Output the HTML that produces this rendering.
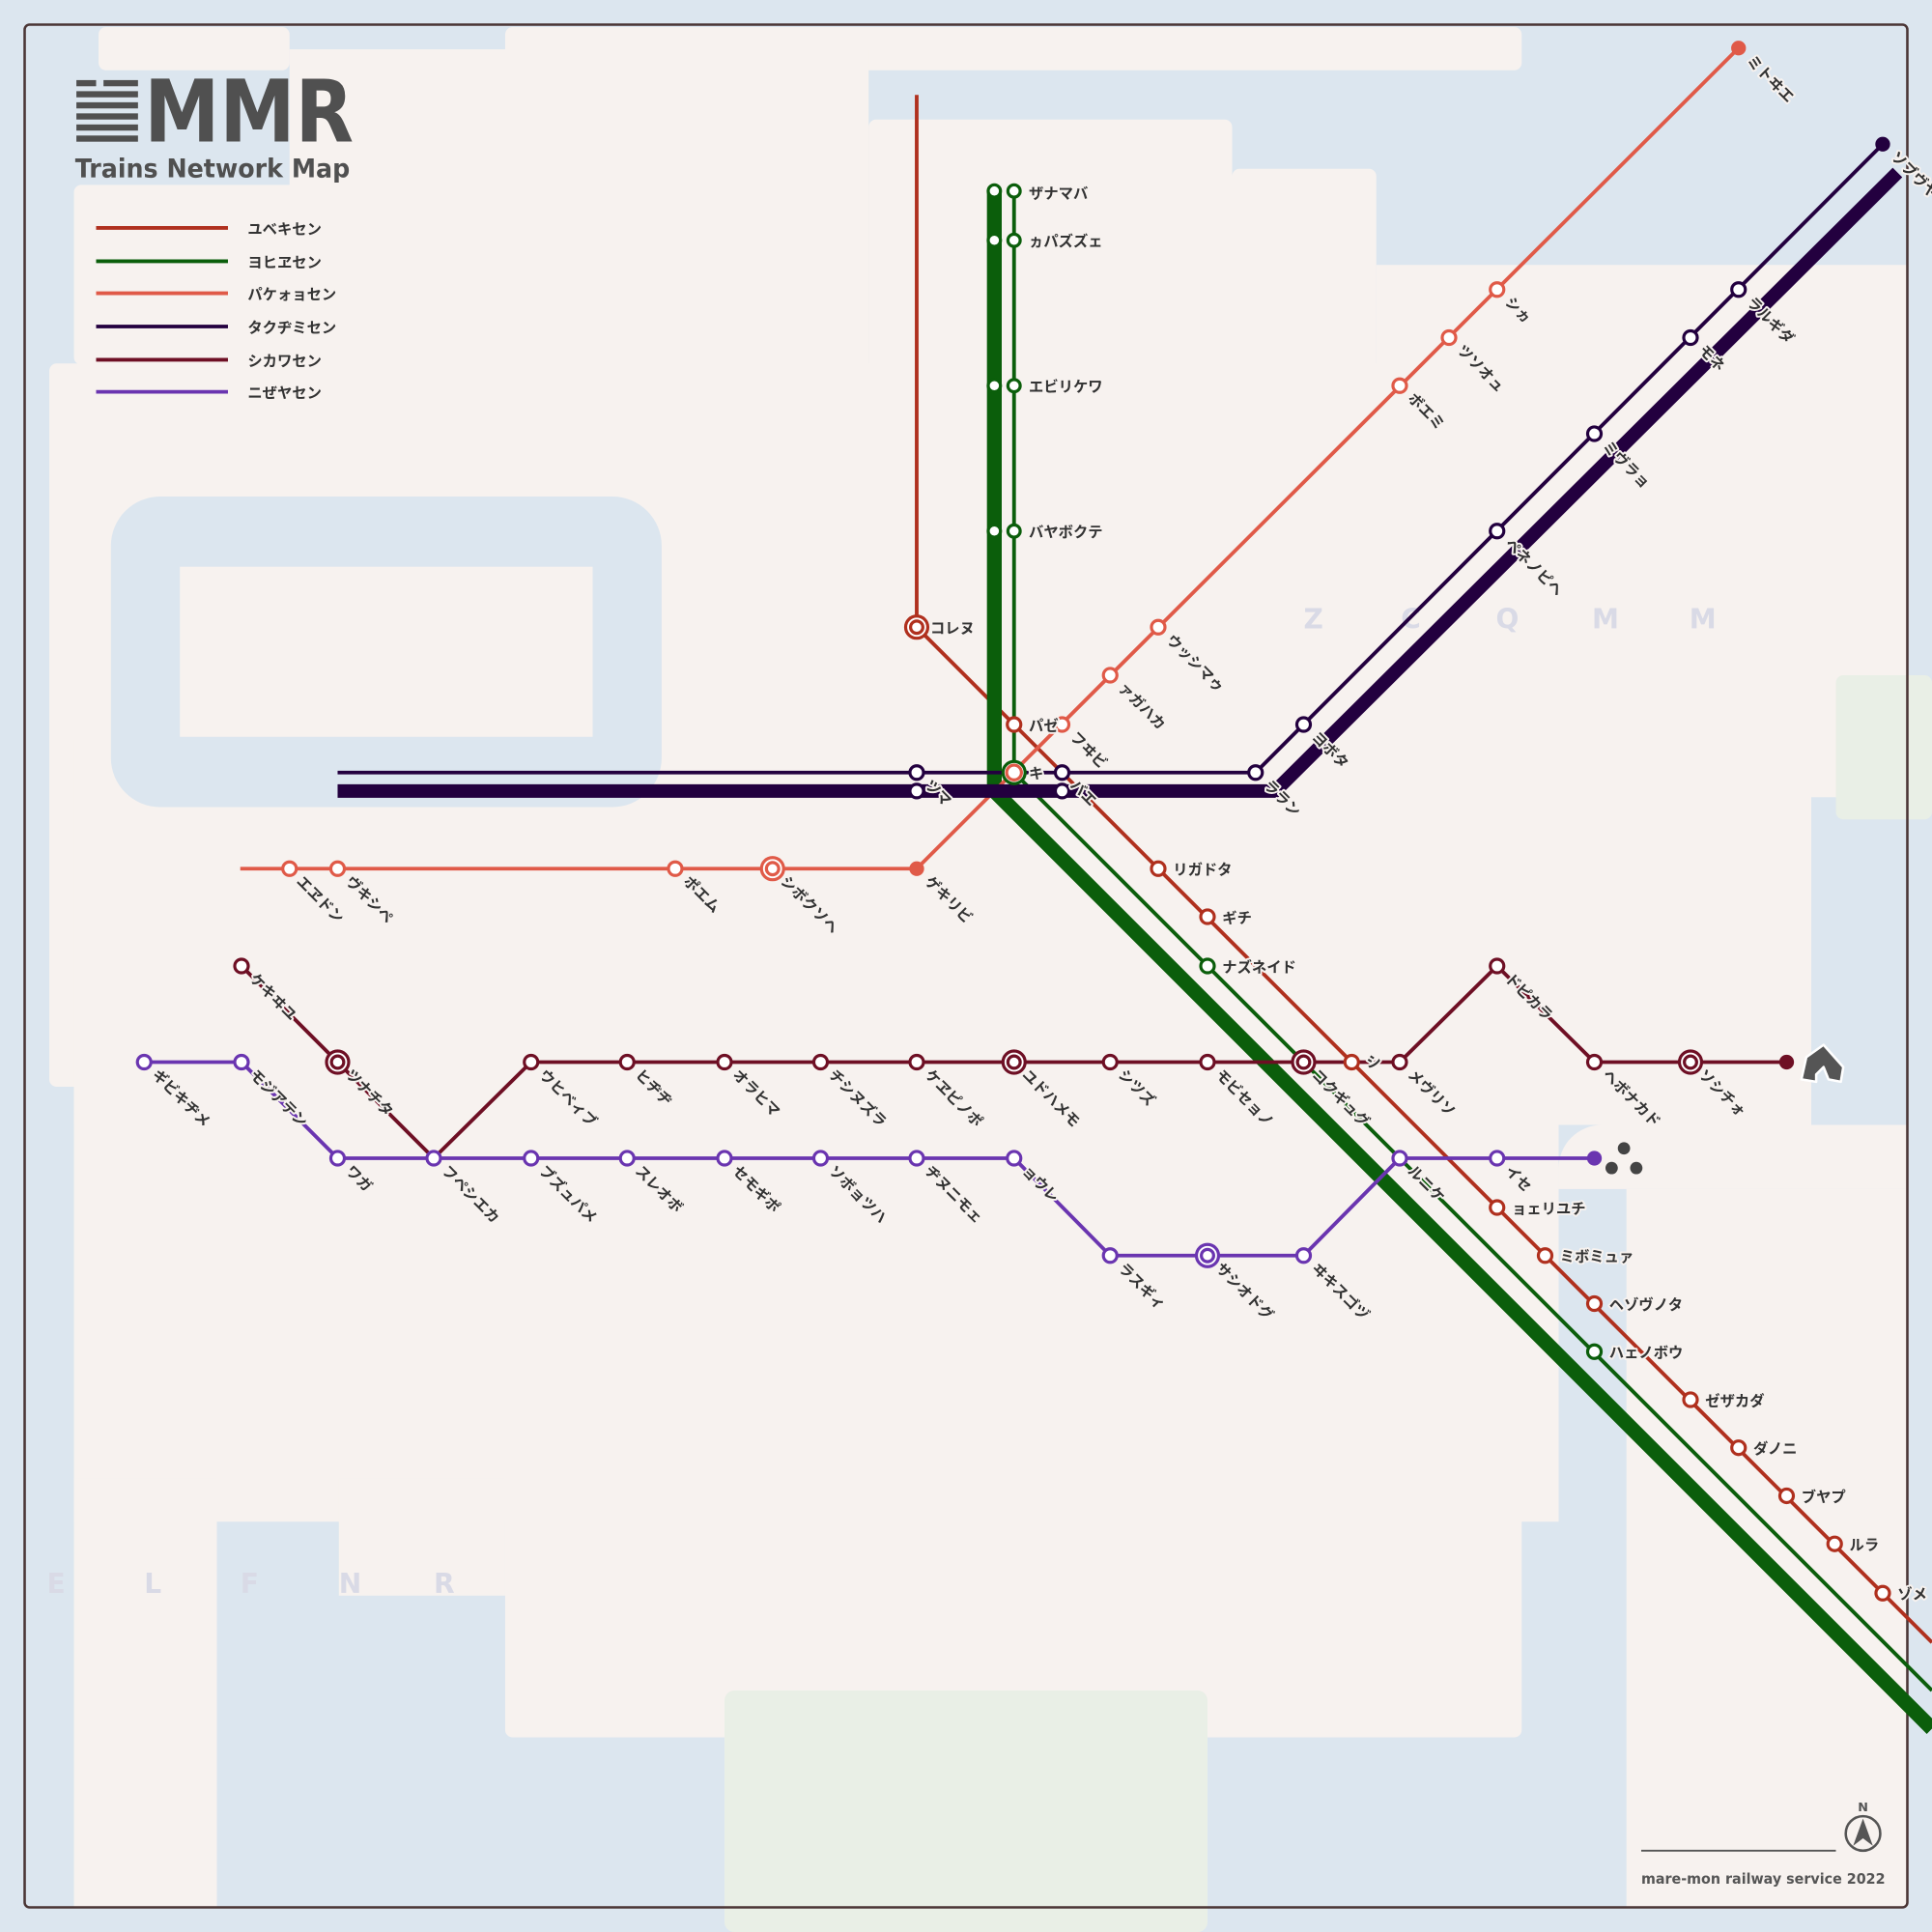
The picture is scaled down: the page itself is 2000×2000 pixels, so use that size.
<!DOCTYPE html>
<html><head><meta charset="utf-8"><style>
html,body{margin:0;padding:0;background:#dce6ef}
svg{display:block}
.t{font-family:"Liberation Sans","Noto Sans CJK JP",sans-serif;font-size:12px;font-weight:bold;fill:#333;stroke:#f7f2ef;stroke-width:3px;paint-order:stroke;stroke-linejoin:round}
.f{font-family:"DejaVu Sans","Liberation Sans",sans-serif;font-size:22px;font-weight:bold;fill:#d9dae6}
</style></head><body>
<svg width="2000" height="2000" viewBox="0 0 1568 1568" xmlns="http://www.w3.org/2000/svg">
<rect width="1568" height="1568" fill="#dce6ef"/>
<g fill="#f7f2ef">
<rect x="80" y="22" width="155" height="35" rx="6"/>
<rect x="410" y="22" width="825" height="35" rx="6"/>
<rect x="235" y="40" width="470" height="262"/>
<rect x="705" y="97" width="295" height="205" rx="6"/>
<rect x="1000" y="137" width="117" height="165" rx="6"/>
<rect x="1117" y="215" width="431" height="432"/>
<rect x="60" y="150" width="230" height="146" rx="6"/>
<rect x="40" y="295" width="1430" height="587" rx="6"/>
<rect x="60" y="600" width="1410" height="312"/>
<rect x="60" y="880" width="1205" height="355"/>
<rect x="1265" y="880" width="205" height="33"/>
<rect x="60" y="1200" width="116" height="348"/>
<rect x="275" y="1200" width="135" height="95"/>
<rect x="410" y="1200" width="825" height="210" rx="6"/>
<rect x="1320" y="965" width="228" height="583"/>
<path d="M1265 965 H1548 V913 H1300 A35 35 0 0 0 1265 948Z"/>
</g>
<rect x="1490" y="548" width="78" height="117" rx="6" fill="#e9efe6"/>
<rect x="588" y="1372" width="392" height="196" rx="8" fill="#e9efe6"/>
<rect x="90" y="403" width="447" height="252" rx="40" fill="#dce6ef"/>
<rect x="146" y="460" width="335" height="138" fill="#f7f2ef"/>
<rect x="20" y="20" width="1528" height="1528" rx="4" fill="none" stroke="#4a3535" stroke-width="2"/>

<g class="f"><text x="1058" y="510">Z</text><text x="1137" y="510">C</text><text x="1214" y="510">Q</text><text x="1292" y="510">M</text><text x="1371" y="510">M</text>
<text x="38" y="1293">E</text><text x="117" y="1293">L</text><text x="195" y="1293">F</text><text x="275" y="1293">N</text><text x="352" y="1293">R</text></g>

<!-- title -->
<g fill="#505050"><rect x="62" y="65" width="16" height="5"/><rect x="84" y="65" width="28" height="5"/><rect x="62" y="74" width="50" height="5"/><rect x="62" y="83" width="50" height="5"/><rect x="62" y="92" width="50" height="5"/><rect x="62" y="101" width="50" height="5"/><rect x="62" y="110" width="50" height="5"/></g>
<text x="117" y="115" font-family="DejaVu Sans,Liberation Sans,sans-serif" font-size="70" font-weight="bold" fill="#505050" textLength="170" lengthAdjust="spacingAndGlyphs">MMR</text>
<text x="61" y="144" font-family="DejaVu Sans,Liberation Sans,sans-serif" font-size="21" font-weight="bold" fill="#505050" textLength="223" lengthAdjust="spacingAndGlyphs">Trains Network Map</text>
<g stroke-width="3">
<line x1="78" y1="185" x2="185" y2="185" stroke="#b0301e"/><line x1="78" y1="212" x2="185" y2="212" stroke="#0b5e0b"/><line x1="78" y1="238" x2="185" y2="238" stroke="#e05a48"/><line x1="78" y1="265" x2="185" y2="265" stroke="#23003f"/><line x1="78" y1="292" x2="185" y2="292" stroke="#6e0f24"/><line x1="78" y1="318" x2="185" y2="318" stroke="#6a35b0"/></g>
<g class="t" fill="#444"><text x="201" y="190">ユベキセン</text><text x="201" y="217">ヨヒヱセン</text><text x="201" y="243">パケォョセン</text><text x="201" y="270">タクヂミセン</text><text x="201" y="297">シカワセン</text><text x="201" y="323">ニぜヤセン</text></g>

<!-- lines -->
<g fill="none" stroke-linejoin="round">
<polyline points="744,77 744,509 1568,1333" stroke="#b0301e" stroke-width="3"/>
<polyline points="807,155 807,642 1568,1403" stroke="#0b5e0b" stroke-width="12"/>
<polyline points="823,155 823,627 1568,1372" stroke="#0b5e0b" stroke-width="3"/>
<polyline points="195,705 744,705 1411,39" stroke="#e05a48" stroke-width="3"/>
<polyline points="274,627 1019,627 1528,117" stroke="#23003f" stroke-width="3"/>
<polyline points="274,642 1035,642 1540,140" stroke="#23003f" stroke-width="11"/>
<polyline points="196,784 274,862 352,940 431,862 1136,862 1215,784 1294,862 1450,862" stroke="#6e0f24" stroke-width="3"/>
<polyline points="117,862 196,862 274,940 823,940 901,1019 1058,1019 1136,940 1294,940" stroke="#6a35b0" stroke-width="3"/>
</g>

<!-- stations -->
<g fill="#fff" stroke-width="2.5">
<g stroke="#0b5e0b">
<circle cx="807" cy="155" r="5"/><circle cx="823" cy="155" r="5"/><circle cx="807" cy="195" r="5"/><circle cx="823" cy="195" r="5"/>
<circle cx="807" cy="313" r="5"/><circle cx="823" cy="313" r="5"/><circle cx="807" cy="431" r="5"/><circle cx="823" cy="431" r="5"/>
<circle cx="980" cy="784" r="5.5"/><circle cx="1294" cy="1097" r="5.5"/><circle cx="823" cy="627" r="9"/></g>
<g stroke="#b0301e">
<circle cx="744" cy="509" r="9"/><circle cx="744" cy="509" r="5"/>
<circle cx="823" cy="588" r="5.5"/><circle cx="940" cy="705" r="5.5"/><circle cx="980" cy="744" r="5.5"/><circle cx="1097" cy="862" r="5.5"/>
<circle cx="1215" cy="980" r="5.5"/><circle cx="1254" cy="1019" r="5.5"/><circle cx="1294" cy="1058" r="5.5"/><circle cx="1372" cy="1136" r="5.5"/>
<circle cx="1411" cy="1175" r="5.5"/><circle cx="1450" cy="1214" r="5.5"/><circle cx="1489" cy="1253" r="5.5"/><circle cx="1528" cy="1293" r="5.5"/></g>
<g stroke="#e05a48">
<circle cx="235" cy="705" r="5.5"/><circle cx="274" cy="705" r="5.5"/><circle cx="548" cy="705" r="5.5"/>
<circle cx="627" cy="705" r="9"/><circle cx="627" cy="705" r="5"/><circle cx="823" cy="627" r="6"/>
<circle cx="862" cy="588" r="5.5"/><circle cx="901" cy="548" r="5.5"/><circle cx="940" cy="509" r="5.5"/><circle cx="1136" cy="313" r="5.5"/><circle cx="1176" cy="274" r="5.5"/><circle cx="1215" cy="235" r="5.5"/></g>
<g stroke="#23003f">
<circle cx="744" cy="627" r="5.5"/><circle cx="744" cy="642" r="5.5"/><circle cx="862" cy="627" r="5.5"/><circle cx="862" cy="642" r="5.5"/>
<circle cx="1019" cy="627" r="5.5"/><circle cx="1058" cy="588" r="5.5"/><circle cx="1215" cy="431" r="5.5"/><circle cx="1294" cy="352" r="5.5"/><circle cx="1372" cy="274" r="5.5"/><circle cx="1411" cy="235" r="5.5"/></g>
<g stroke="#6e0f24">
<circle cx="196" cy="784" r="5.5"/><circle cx="274" cy="862" r="9"/><circle cx="274" cy="862" r="5"/><circle cx="431" cy="862" r="5.5"/><circle cx="509" cy="862" r="5.5"/><circle cx="588" cy="862" r="5.5"/><circle cx="666" cy="862" r="5.5"/><circle cx="744" cy="862" r="5.5"/>
<circle cx="823" cy="862" r="9"/><circle cx="823" cy="862" r="5"/><circle cx="901" cy="862" r="5.5"/><circle cx="980" cy="862" r="5.5"/><circle cx="1058" cy="862" r="9"/><circle cx="1058" cy="862" r="5"/>
<circle cx="1136" cy="862" r="5.5"/><circle cx="1215" cy="784" r="5.5"/><circle cx="1294" cy="862" r="5.5"/><circle cx="1372" cy="862" r="9"/><circle cx="1372" cy="862" r="5"/></g>
<g stroke="#6a35b0">
<circle cx="117" cy="862" r="5.5"/><circle cx="196" cy="862" r="5.5"/><circle cx="274" cy="940" r="5.5"/><circle cx="352" cy="940" r="5.5"/><circle cx="431" cy="940" r="5.5"/><circle cx="509" cy="940" r="5.5"/><circle cx="588" cy="940" r="5.5"/><circle cx="666" cy="940" r="5.5"/><circle cx="744" cy="940" r="5.5"/><circle cx="823" cy="940" r="5.5"/>
<circle cx="901" cy="1019" r="5.5"/><circle cx="980" cy="1019" r="9"/><circle cx="980" cy="1019" r="5"/><circle cx="1058" cy="1019" r="5.5"/><circle cx="1136" cy="940" r="5.5"/><circle cx="1215" cy="940" r="5.5"/></g>
</g>
<circle cx="744" cy="705" r="6" fill="#e05a48"/><circle cx="1411" cy="39" r="6" fill="#e05a48"/>
<circle cx="1528" cy="117" r="6" fill="#23003f"/><circle cx="1450" cy="862" r="6" fill="#6e0f24"/><circle cx="1294" cy="940" r="6" fill="#6a35b0"/>
<g fill="#444"><circle cx="1318" cy="932" r="5"/><circle cx="1308" cy="948" r="5"/><circle cx="1328" cy="948" r="5"/></g>
<path d="M1462 876 L1466 858 L1480 848 L1496 866 L1494 878 L1484 876 L1480 866 L1474 872 L1474 878 Z" fill="#555" stroke="#fff" stroke-width="2" stroke-linejoin="round"/>

<!-- horizontal labels -->
<g class="t">
<text x="835" y="161">ザナマバ</text><text x="835" y="200">ヵパズズェ</text><text x="835" y="318">エビリケワ</text><text x="835" y="436">バヤボクテ</text>
<text x="755" y="514">コレヌ</text><text x="835" y="593">パゼ</text><text x="835" y="632">キ</text>
<text x="952" y="710">リガドタ</text><text x="992" y="749">ギチ</text><text x="992" y="789">ナズネイド</text><text x="1109" y="866">シ</text>
<text x="1227" y="985">ョェリユチ</text><text x="1266" y="1024">ミボミュァ</text><text x="1306" y="1063">ヘゾヴノタ</text><text x="1306" y="1102">ハェノボウ</text>
<text x="1384" y="1141">ゼザカダ</text><text x="1423" y="1180">ダノニ</text><text x="1462" y="1219">ブヤプ</text><text x="1501" y="1258">ルラ</text><text x="1540" y="1298">ゾメ</text>
</g>
<!-- rotated labels -->
<g class="t">
<text transform="translate(240,716) rotate(45)">エヱドン</text><text transform="translate(280,716) rotate(45)">ヴキシペ</text>
<text transform="translate(554,716) rotate(45)">ポエム</text><text transform="translate(633,716) rotate(45)">シボクソヘ</text><text transform="translate(750,716) rotate(45)">ゲキリビ</text>
<text transform="translate(868,599) rotate(45)">フヰビ</text><text transform="translate(907,559) rotate(45)">ァガハカ</text><text transform="translate(946,520) rotate(45)">ウッシマゥ</text>
<text transform="translate(1142,324) rotate(45)">ボエミ</text><text transform="translate(1182,285) rotate(45)">ツソオュ</text><text transform="translate(1221,246) rotate(45)">シヵ</text><text transform="translate(1417,50) rotate(45)">ミトヰエ</text>
<text transform="translate(750,638) rotate(45)">ツマ</text><text transform="translate(868,638) rotate(45)">バエ</text><text transform="translate(1025,638) rotate(45)">ララン</text>
<text transform="translate(1064,599) rotate(45)">ヨボタ</text><text transform="translate(1221,442) rotate(45)">ペネノピヘ</text><text transform="translate(1300,363) rotate(45)">ミヴラョ</text>
<text transform="translate(1378,285) rotate(45)">モネ</text><text transform="translate(1417,246) rotate(45)">ラルギダ</text><text transform="translate(1534,128) rotate(45)">ソブヴヤ</text>
<text transform="translate(202,795) rotate(45)">ケキヰユ</text><text transform="translate(280,873) rotate(45)">ツナチタ</text><text transform="translate(437,873) rotate(45)">ウヒベィブ</text>
<text transform="translate(515,873) rotate(45)">ヒヂヂ</text><text transform="translate(594,873) rotate(45)">オラヒマ</text><text transform="translate(672,873) rotate(45)">チシヌズラ</text><text transform="translate(750,873) rotate(45)">ケヱピノポ</text>
<text transform="translate(829,873) rotate(45)">ユドハメモ</text><text transform="translate(907,873) rotate(45)">シツズ</text><text transform="translate(986,873) rotate(45)">モビセョノ</text><text transform="translate(1064,873) rotate(45)">コクギュグ</text>
<text transform="translate(1142,873) rotate(45)">メヴリソ</text><text transform="translate(1221,795) rotate(45)">ドピカラ</text><text transform="translate(1300,873) rotate(45)">ヘボナカド</text><text transform="translate(1378,873) rotate(45)">ソシチォ</text>
<text transform="translate(123,873) rotate(45)">ギビキヂメ</text><text transform="translate(202,873) rotate(45)">モジアテン</text><text transform="translate(280,951) rotate(45)">ワガ</text>
<text transform="translate(358,951) rotate(45)">フペシエカ</text><text transform="translate(437,951) rotate(45)">ブズュパメ</text><text transform="translate(515,951) rotate(45)">スレオボ</text><text transform="translate(594,951) rotate(45)">セモギポ</text>
<text transform="translate(672,951) rotate(45)">ソボョツハ</text><text transform="translate(750,951) rotate(45)">ヂヌニモェ</text><text transform="translate(829,951) rotate(45)">ョウレ</text>
<text transform="translate(907,1030) rotate(45)">ラスギィ</text><text transform="translate(986,1030) rotate(45)">サシオドグ</text><text transform="translate(1064,1030) rotate(45)">ヰキスゴヅ</text>
<text transform="translate(1142,951) rotate(45)">ルニケ</text><text transform="translate(1221,951) rotate(45)">イセ</text>
</g>

<!-- footer -->
<line x1="1332" y1="1502" x2="1490" y2="1502" stroke="#555" stroke-width="1.5"/>
<text x="1332" y="1529" font-family="DejaVu Sans,Liberation Sans,sans-serif" font-size="11.5" font-weight="bold" fill="#555" textLength="198" lengthAdjust="spacingAndGlyphs">mare-mon railway service 2022</text>
<circle cx="1512" cy="1488" r="14" fill="none" stroke="#555" stroke-width="2"/>
<path d="M1512 1476 L1520 1498 L1512 1492 L1504 1498 Z" fill="#555"/>
<text x="1512" y="1470" text-anchor="middle" font-family="DejaVu Sans,sans-serif" font-size="10" font-weight="bold" fill="#555">N</text>
</svg>
</body></html>
